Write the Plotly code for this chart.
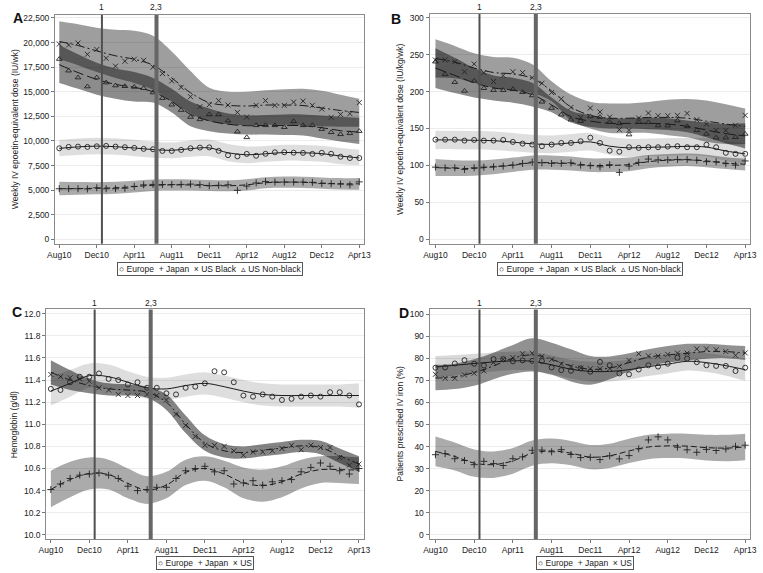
import plotly.graph_objects as go

W, H = 763, 573
FONT = "Liberation Sans, Arial, sans-serif"

# ---------------- shared axis data ----------------
months = list(range(33))                      # Aug10 .. Apr13, monthly
fit_months = list(range(0, 33, 2))            # smoothed curves read every 2 months
tick_vals = list(range(0, 33, 4))
tick_text = ["Aug10", "Dec10", "Apr11", "Aug11", "Dec11", "Apr12", "Aug12", "Dec12", "Apr13"]
event_months = [4.55, 10.37]
event_labels = ["1", "2,3"]

# ---------------- Panel A: weekly IV epoetin dose (IU/wk) ----------------
a_europe = [9260, 9400, 9430, 9400, 9460, 9500, 9430, 9370, 9300, 9200, 9160, 8990, 8990, 9090, 9260, 9330,
            9350, 9000, 8560, 8440, 8690, 8500, 8700, 8850, 8860, 8810, 8790, 8690, 8800, 8700, 8400, 8270, 8270]
a_japan = [5150, 5150, 5150, 5130, 5250, 5150, 5150, 5200, 5390, 5540, 5590, 5580, 5580, 5590, 5620, 5560,
           5450, 5500, 5550, 4990, 5420, 5740, 5880, 5830, 5830, 5830, 5830, 5800, 5680, 5660, 5630, 5540, 5850]
a_usblack = [19850, 19750, 19950, 18800, 19300, 18400, 17600, 18100, 18300, 18200, 17500, 16850, 16100, 15450,
             14500, 13480, 13690, 14100, 13650, 12910, 12440, 13620, 14100, 13620, 13620, 13950, 14050, 13620,
             13250, 12400, 12700, 12780, 13900]
a_usnonblack = [18320, 17140, 16440, 15530, 16440, 15930, 15630, 15560, 15490, 15360, 14920, 14350, 13680,
                13140, 12430, 12190, 12700, 12700, 12060, 10950, 10370, 11590, 11590, 11590, 11400, 11990,
                11590, 11590, 11200, 10880, 10680, 10780, 11000]
a_eu_fit = [9250, 9400, 9480, 9420, 9290, 9130, 9050, 9220, 9300, 8800, 8600, 8700, 8830, 8800, 8720, 8470, 8280]
a_eu_hi = [10100, 10250, 10330, 10280, 10130, 9950, 9850, 10050, 10150, 9700, 9450, 9500, 9620, 9600, 9520, 9300, 9130]
a_eu_lo = [8450, 8570, 8650, 8600, 8460, 8300, 8250, 8400, 8450, 7950, 7750, 7880, 8000, 7980, 7900, 7650, 7550]
a_jp_fit = [5150, 5170, 5200, 5250, 5370, 5500, 5540, 5530, 5480, 5450, 5550, 5760, 5820, 5800, 5720, 5650, 5650]
a_jp_hi = [5850, 5830, 5820, 5850, 5950, 6080, 6110, 6090, 6040, 6010, 6120, 6330, 6400, 6380, 6300, 6230, 6250]
a_jp_lo = [4500, 4540, 4580, 4650, 4780, 4920, 4960, 4960, 4920, 4890, 4980, 5190, 5240, 5220, 5140, 5070, 5050]
a_bl_fit = [20100, 19700, 19150, 18650, 18300, 17700, 16400, 14900, 13900, 13620, 13550, 13650, 13650, 13600, 13350, 13100, 12900]
a_bl_hi = [22150, 21850, 21500, 21300, 21200, 20700, 19100, 17100, 15400, 15000, 15000, 15150, 15250, 15300, 15100, 14700, 14300]
a_bl_lo = [18300, 17700, 17000, 16400, 15900, 15200, 14000, 12800, 12000, 11700, 11600, 11650, 11650, 11600, 11500, 11450, 11450]
a_nb_fit = [17750, 16950, 16250, 15750, 15450, 15000, 14000, 12700, 12050, 11700, 11550, 11580, 11580, 11550, 11350, 11050, 10900]
a_nb_hi = [19750, 18800, 17950, 17350, 17000, 16400, 15300, 14000, 13300, 12800, 12600, 12650, 12700, 12700, 12600, 12450, 12350]
a_nb_lo = [15900, 15300, 14700, 14300, 14000, 13900, 12900, 11500, 11000, 10750, 10650, 10650, 10600, 10550, 10250, 9950, 9700]

# ---------------- Panel B: weekly IV epoetin dose (IU/kg/wk) ----------------
b_europe = [134.9, 134.9, 134.9, 133.6, 134.5, 133.6, 133.6, 134.5, 131.8, 129.5, 128.2, 126, 128.2, 130.4, 130.4,
            132.7, 137.5, 130.4, 120, 118.5, 124.6, 123.7, 124.6, 124.6, 125.5, 126, 124.6, 124.6, 128, 124.6,
            117, 115.6, 115.6]
b_japan = [97.6, 96.7, 96.7, 94.5, 96.7, 97.6, 98, 99, 100.3, 102.6, 104.4, 103.5, 102.6, 102.6, 103.5, 100.3,
           99.5, 98, 100.8, 90.5, 99, 104, 108.5, 107.5, 107.5, 108, 108, 107, 105, 104.8, 102.3, 100.3, 106]
b_usblack = [242.9, 243, 240.6, 227, 237.5, 225.8, 213.7, 221.8, 227, 225.8, 219, 211.4, 198.8, 190.3, 178.6,
             165, 177.7, 172.5, 165.5, 148.4, 147.5, 164.2, 170.9, 167.3, 167.3, 167.8, 170.5, 161.9, 156,
             147.5, 147.5, 154.3, 167.8]
b_usnonblack = [240.6, 223.5, 212.8, 201, 214.6, 204.7, 202, 202, 203.3, 199.3, 194.8, 186.2, 177.7, 168.7,
                161.9, 160, 166.4, 165.5, 158.8, 157, 141.7, 158.5, 158.3, 154, 153.8, 160.6, 152.9, 147.5,
                142.6, 137.5, 137.5, 138.1, 142.6]
b_eu_fit = [134.5, 134.5, 134, 133.5, 131.5, 129.2, 128.5, 130.5, 131.8, 126, 123.7, 124.5, 125, 125.8, 124.8, 119.5, 115.6]
b_eu_hi = [147, 147, 146.5, 146, 144, 141.5, 140.5, 142.5, 144, 138.5, 136, 136.5, 137, 137.5, 137, 133, 130]
b_eu_lo = [122, 122, 121.5, 121, 119, 117, 116.5, 118.5, 120, 114, 111.5, 112.5, 113, 113.8, 112.5, 106, 101]
b_jp_fit = [97, 96, 96, 98, 100.5, 103.5, 103.5, 102.5, 100, 100, 101, 105, 107, 107.5, 106, 103, 101.5]
b_jp_hi = [108.5, 107, 106.5, 108, 110.5, 113.5, 113.5, 112, 109.5, 109.5, 110.5, 114, 115.5, 116, 114.5, 111, 109]
b_jp_lo = [85.5, 85.5, 86, 88, 91, 94, 94, 93, 91, 91, 92, 96, 98, 99, 97.5, 95, 93]
b_bl_fit = [245, 240, 232, 226, 224, 218, 201, 179, 168, 164, 164, 165, 165, 164, 160, 156, 153]
b_bl_hi = [271, 262, 252, 247, 246, 237, 214, 196, 186, 184, 184, 186, 189, 190, 188, 183, 177]
b_bl_lo = [219, 218, 212, 205, 202, 198, 187, 161, 150, 144, 144, 144, 141, 138, 132, 129, 129]
b_nb_fit = [232, 222, 212, 205, 202, 196, 182, 166, 160, 157, 157, 157, 156, 153, 148, 143, 140]
b_nb_hi = [259, 246, 232, 222, 219, 212, 192, 174, 168, 164, 164, 165, 164, 161, 158, 156, 157]
b_nb_lo = [205, 198, 192, 188, 185, 180, 172, 158, 152, 150, 150, 149, 148, 145, 138, 130, 123]

# ---------------- Panel C: hemoglobin (g/dl) ----------------
c_europe = [11.32, 11.31, 11.38, 11.43, 11.43, 11.46, 11.41, 11.40, 11.36, 11.38, 11.33, 11.33, 11.28, 11.27,
            11.33, 11.34, 11.37, 11.48, 11.47, 11.38, 11.26, 11.25, 11.27, 11.25, 11.22, 11.23, 11.25, 11.26,
            11.25, 11.29, 11.29, 11.26, 11.18]
c_japan = [10.41, 10.46, 10.51, 10.54, 10.55, 10.56, 10.54, 10.51, 10.44, 10.40, 10.41, 10.43, 10.43, 10.51,
           10.58, 10.60, 10.62, 10.57, 10.58, 10.46, 10.47, 10.49, 10.45, 10.48, 10.49, 10.50, 10.57, 10.61,
           10.65, 10.62, 10.58, 10.55, 10.60]
c_us = [11.45, 11.43, 11.42, 11.41, 11.39, 11.33, 11.31, 11.27, 11.26, 11.26, 11.27, 11.26, 11.22, 11.09, 10.99,
        10.89, 10.81, 10.81, 10.80, 10.76, 10.72, 10.75, 10.75, 10.76, 10.78, 10.81, 10.77, 10.81, 10.79, 10.79,
        10.70, 10.63, 10.64]
c_eu_fit = [11.30, 11.37, 11.44, 11.43, 11.38, 11.33, 11.32, 11.35, 11.37, 11.34, 11.30, 11.27, 11.26, 11.26, 11.26, 11.26, 11.26]
c_eu_hi = [11.43, 11.49, 11.55, 11.54, 11.48, 11.43, 11.42, 11.45, 11.47, 11.44, 11.40, 11.37, 11.36, 11.36, 11.36, 11.36, 11.37]
c_eu_lo = [11.17, 11.25, 11.33, 11.32, 11.28, 11.23, 11.22, 11.25, 11.27, 11.24, 11.20, 11.17, 11.16, 11.16, 11.16, 11.16, 11.15]
c_us_fit = [11.47, 11.40, 11.35, 11.32, 11.31, 11.29, 11.20, 11.00, 10.83, 10.76, 10.745, 10.765, 10.785, 10.805, 10.79, 10.715, 10.64]
c_us_hi = [11.58, 11.49, 11.41, 11.37, 11.36, 11.34, 11.27, 11.08, 10.90, 10.82, 10.80, 10.82, 10.84, 10.86, 10.85, 10.78, 10.71]
c_us_lo = [11.36, 11.31, 11.28, 11.26, 11.26, 11.24, 11.13, 10.92, 10.76, 10.70, 10.69, 10.71, 10.73, 10.75, 10.73, 10.65, 10.57]
c_jp_fit = [10.41, 10.50, 10.555, 10.545, 10.465, 10.405, 10.45, 10.565, 10.60, 10.55, 10.47, 10.445, 10.48, 10.55, 10.59, 10.59, 10.585]
c_jp_hi = [10.58, 10.66, 10.70, 10.68, 10.60, 10.53, 10.57, 10.68, 10.71, 10.67, 10.61, 10.59, 10.62, 10.68, 10.71, 10.71, 10.70]
c_jp_lo = [10.25, 10.34, 10.41, 10.41, 10.33, 10.28, 10.33, 10.45, 10.49, 10.43, 10.33, 10.30, 10.34, 10.42, 10.47, 10.47, 10.46]

# ---------------- Panel D: patients prescribed IV iron (%) ----------------
d_europe = [75.7, 75.8, 77.6, 79.1, 77.5, 76.7, 79.6, 79.6, 78.6, 79, 78.8, 78.7, 75.8, 74.6, 74.3, 75.4, 73.9,
            78.3, 76.8, 73.1, 72.7, 74.9, 76.8, 76.2, 77.5, 80.2, 79.8, 78.2, 76.8, 76.5, 76.5, 74.2, 75.7]
d_japan = [36.3, 36.8, 34.5, 33.7, 31.8, 33.3, 32.3, 31.4, 34.5, 35.3, 38.3, 38.4, 37.6, 38.6, 36.4, 35, 35.1,
           34.1, 35.8, 34.4, 35.9, 39, 43, 44.4, 43, 39.7, 38.5, 37.4, 38.7, 38.2, 38.9, 40.1, 40.6]
d_us = [72.7, 70.9, 70.9, 72.4, 73.2, 74.2, 78, 79.5, 80.2, 82, 82.3, 80.8, 79.5, 77.4, 76.2, 75.5, 75.2, 75.2,
        75.3, 76.3, 79, 82, 81, 81, 81.7, 82.3, 82.3, 84.2, 84.2, 83.8, 83, 81.3, 82.4]
d_eu_fit = [76, 76.8, 77.6, 78.3, 78.8, 78.6, 77, 75, 74, 74, 74.8, 76.2, 77.3, 78.6, 78, 76.6, 74.8]
d_eu_hi = [81, 81.4, 82, 82.6, 83, 82.8, 81.2, 79.3, 78.5, 78.5, 79.3, 80.5, 81.5, 82.8, 82.3, 81.1, 79.8]
d_eu_lo = [71, 72.2, 73.2, 74, 74.6, 74.4, 72.8, 70.7, 69.5, 69.5, 70.3, 71.9, 73.1, 74.4, 73.7, 72.1, 69.8]
d_us_fit = [71, 71.5, 73.5, 76.5, 80, 81.5, 79.5, 76.5, 75, 75.5, 78, 80.5, 81.5, 82.2, 83, 83, 82.3]
d_us_hi = [77, 77.5, 79.5, 82.5, 86, 89, 87, 84, 81, 80.8, 82.2, 84, 85.5, 86.5, 86.5, 86, 85.5]
d_us_lo = [65.5, 66, 67.5, 70.5, 73, 74, 72.5, 69.5, 68, 70.5, 74, 76.5, 78, 79, 79.8, 80, 79.2]
d_jp_fit = [37.8, 35.5, 32.5, 31.8, 33.5, 37, 38, 37, 35.2, 35.8, 38, 39.8, 40.3, 40.2, 39.5, 39.3, 39.8]
d_jp_hi = [44.5, 41.8, 38.7, 37.8, 39.3, 42.7, 43.6, 42.5, 40.7, 41.3, 43.5, 45.3, 45.8, 45.8, 45.3, 45.3, 45.8]
d_jp_lo = [31.1, 29.2, 26.3, 25.8, 27.7, 31.3, 32.4, 31.5, 29.7, 30.3, 32.5, 34.3, 34.8, 34.6, 33.7, 33.3, 33.8]

# ---------------- styles ----------------
SYMBOL = {"Europe": "circle-open", "Japan": "cross-thin-open", "US Black": "x-thin-open",
          "US Non-black": "triangle-up-open", "US": "x-thin-open"}
GLYPH = {"Europe": "○", "Japan": "+", "US Black": "×", "US Non-black": "▵", "US": "×"}
DASH = {"Europe": "solid", "Japan": "6px,3px", "US Black": "9px,3px,2px,3px",
        "US Non-black": "11px,4px", "US": "7px,3px,2px,3px"}
MSIZE = {"Europe": 5, "Japan": 5, "US Black": 5, "US Non-black": 5, "US": 5}

panels = [
    dict(key="A", ax="", title="Weekly IV epoetin-equivalent dose (IU/wk)",
         box=(48, 363, 13, 243), xrange=[-0.45, 32.49], yrange=[-434, 22803],
         ytick=dict(tick0=0, dtick=2500, tickformat=",d"),
         letter=(3, 6), ytitle_x=7, legend_c=(206, 268), label_y=5,
         series=[("Europe", a_europe, a_eu_fit, a_eu_lo, a_eu_hi, 0.13),
                 ("Japan", a_japan, a_jp_fit, a_jp_lo, a_jp_hi, 0.33),
                 ("US Black", a_usblack, a_bl_fit, a_bl_lo, a_bl_hi, 0.38),
                 ("US Non-black", a_usnonblack, a_nb_fit, a_nb_lo, a_nb_hi, 0.45)]),
    dict(key="B", ax="2", title="Weekly IV epoetin-equivalent dose (IU/kg/wk)",
         box=(430, 757, 12, 243), xrange=[-0.61, 32.51], yrange=[-6.3, 305.4],
         ytick=dict(tick0=0, dtick=50, tickformat="d"),
         letter=(389, 7), ytitle_x=400, legend_c=(594, 268.5), label_y=5,
         series=[("Europe", b_europe, b_eu_fit, b_eu_lo, b_eu_hi, 0.13),
                 ("Japan", b_japan, b_jp_fit, b_jp_lo, b_jp_hi, 0.33),
                 ("US Black", b_usblack, b_bl_fit, b_bl_lo, b_bl_hi, 0.38),
                 ("US Non-black", b_usnonblack, b_nb_fit, b_nb_lo, b_nb_hi, 0.45)]),
    dict(key="C", ax="3", title="Hemoglobin (g/dl)",
         box=(39, 363, 309, 540), xrange=[-0.48, 32.51], yrange=[9.961, 12.039],
         ytick=dict(tick0=10, dtick=0.2, tickformat=".1f"),
         letter=(2, 302), ytitle_x=6, legend_c=(201, 564), label_y=303,
         series=[("Europe", c_europe, c_eu_fit, c_eu_lo, c_eu_hi, 0.13),
                 ("Japan", c_japan, c_jp_fit, c_jp_lo, c_jp_hi, 0.33),
                 ("US", c_us, c_us_fit, c_us_lo, c_us_hi, 0.48)]),
    dict(key="D", ax="4", title="Patients prescribed IV iron (%)",
         box=(430, 757, 309, 540), xrange=[-0.61, 32.51], yrange=[-1.94, 102.1],
         ytick=dict(tick0=0, dtick=10, tickformat="d"),
         letter=(397, 303), ytitle_x=400, legend_c=(589, 564), label_y=303,
         series=[("Europe", d_europe, d_eu_fit, d_eu_lo, d_eu_hi, 0.15),
                 ("Japan", d_japan, d_jp_fit, d_jp_lo, d_jp_hi, 0.33),
                 ("US", d_us, d_us_fit, d_us_lo, d_us_hi, 0.43)]),
]


def px(x):
    return x / W


def py(y):
    return 1 - y / H


fig = go.Figure()
annotations = []
shapes = []
layout = dict(width=W, height=H, margin=dict(l=0, r=0, t=0, b=0), paper_bgcolor="white",
              plot_bgcolor="white", showlegend=False, font=dict(family=FONT, size=8.5, color="#222"))

for p in panels:
    xa, ya = "x" + p["ax"], "y" + p["ax"]
    l, r, t, b = p["box"]
    # confidence bands
    for name, pts, fit, lo, hi, alpha in p["series"]:
        fig.add_trace(go.Scatter(x=fit_months, y=hi, mode="lines", line=dict(width=0, shape="spline"),
                                 xaxis=xa, yaxis=ya, hoverinfo="skip"))
        fig.add_trace(go.Scatter(x=fit_months, y=lo, mode="lines", line=dict(width=0, shape="spline"),
                                 fill="tonexty", fillcolor=f"rgba(0,0,0,{alpha})",
                                 xaxis=xa, yaxis=ya, hoverinfo="skip"))
    # smoothed curves
    for name, pts, fit, lo, hi, alpha in p["series"]:
        fig.add_trace(go.Scatter(x=fit_months, y=fit, mode="lines",
                                 line=dict(color="#1a1a1a", width=1, dash=DASH[name], shape="spline"),
                                 xaxis=xa, yaxis=ya, name=name))
    # monthly observed points
    for name, pts, fit, lo, hi, alpha in p["series"]:
        fig.add_trace(go.Scatter(x=months, y=pts, mode="markers",
                                 marker=dict(symbol=SYMBOL[name], size=MSIZE[name], color="#222",
                                             line=dict(width=0.9, color="#222")),
                                 xaxis=xa, yaxis=ya, name=name))

    axkey = "xaxis" + p["ax"]
    aykey = "yaxis" + p["ax"]
    layout[axkey] = dict(domain=[px(l), px(r)], range=p["xrange"], anchor=ya,
                         tickmode="array", tickvals=tick_vals, ticktext=tick_text,
                         ticks="outside", ticklen=3, tickcolor="#777", showline=True, linecolor="#8a8a8a",
                         linewidth=1, mirror=True, showgrid=False, zeroline=False,
                         tickfont=dict(size=8.5, family=FONT, color="#222"))
    layout[aykey] = dict(domain=[py(b), py(t)], range=p["yrange"], anchor=xa,
                         tickmode="linear", ticks="outside", ticklen=3, tickcolor="#777",
                         showline=True, linecolor="#8a8a8a", linewidth=1, mirror=True,
                         showgrid=True, gridcolor="#ececec", gridwidth=1, zeroline=False,
                         tickfont=dict(size=8.5, family=FONT, color="#222"), **p["ytick"])

    # event lines and labels
    for ev, lab, wdt, col in zip(event_months, event_labels, [2, 4], ["#505050", "#666666"]):
        shapes.append(dict(type="line", xref=xa, yref=ya + " domain", x0=ev, x1=ev, y0=0, y1=1,
                           line=dict(color=col, width=wdt), layer="above"))
        annotations.append(dict(x=ev, y=py(p["label_y"]), xref=xa, yref="paper", text=lab,
                                showarrow=False, xanchor="center", yanchor="middle",
                                font=dict(size=8.5, family=FONT, color="#222")))

    # y-axis title
    annotations.append(dict(x=px(p["ytitle_x"]), y=py((t + b) / 2), xref="paper", yref="paper",
                            text=p["title"], textangle=-90, showarrow=False, xanchor="center",
                            yanchor="middle", font=dict(size=8.5, family=FONT, color="#222")))
    # panel letter
    annotations.append(dict(x=px(p["letter"][0]), y=py(p["letter"][1]), xref="paper", yref="paper",
                            text="<b>" + p["key"] + "</b>", showarrow=False, xanchor="left",
                            yanchor="top", font=dict(size=14, family=FONT, color="#111")))
    # legend box
    legend_text = "  ".join(GLYPH[s[0]] + " " + s[0] for s in p["series"])
    annotations.append(dict(x=px(p["legend_c"][0]), y=py(p["legend_c"][1]), xref="paper", yref="paper",
                            text=legend_text, showarrow=False, xanchor="center", yanchor="middle",
                            bordercolor="#555", borderwidth=1, borderpad=1, bgcolor="white",
                            font=dict(size=8.5, family=FONT, color="#222")))

layout["annotations"] = annotations
layout["shapes"] = shapes
fig.update_layout(**layout)
fig.write_html("out.html", config={"displayModeBar": False},
               post_script="document.body.style.margin='0';document.body.style.padding='0';")
